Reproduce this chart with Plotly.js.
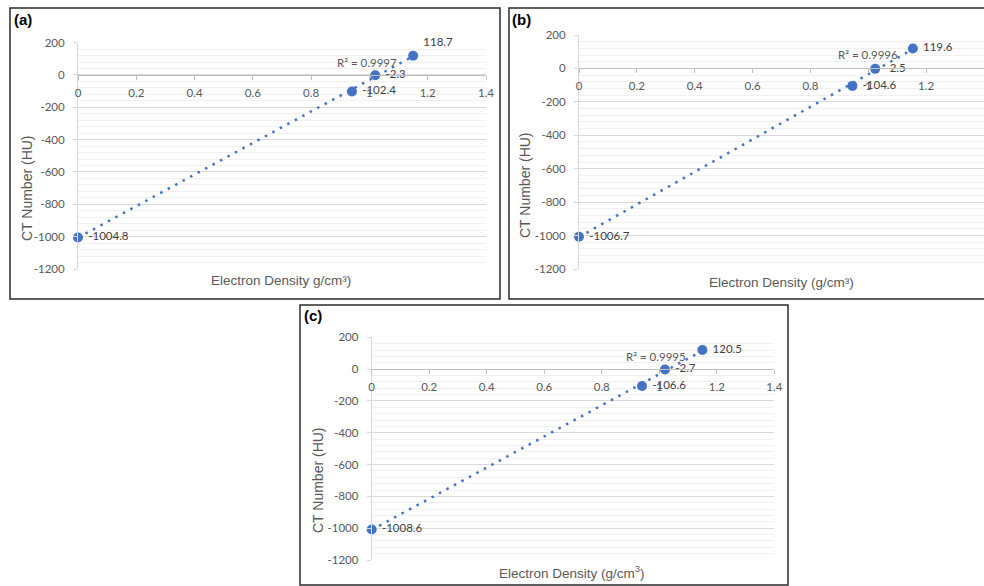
<!DOCTYPE html>
<html>
<head>
<meta charset="utf-8">
<script src="https://cdn.plot.ly/plotly-3.0.1.min.js"></script>
<style>
  html, body { margin: 0; padding: 0; background: #ffffff; }
  #chart { width: 984px; height: 586px; }
</style>
</head>
<body>
<div id="chart"></div>
<script>
// ---- data ----
const densityA = [0, 0.94, 1.02, 1.15];
const ctA = [-1004.8, -102.4, -2.3, 118.7];
const densityB = [0, 0.945, 1.024, 1.154];
const ctB = [-1006.7, -104.6, -2.5, 119.6];
const densityC = [0, 0.94, 1.02, 1.15];
const ctC = [-1008.6, -106.6, -2.7, 120.5];
const rSquared = [0.9997, 0.9996, 0.9995];
const panelLabels = ['(a)', '(b)', '(c)'];
const xTitles = ['Electron Density g/cm³)', 'Electron Density (g/cm³)', 'Electron Density (g/cm<sup>3</sup>)'];
const yTitle = 'CT Number (HU)';
const yTickVals = [200, 0, -200, -400, -600, -800, -1000, -1200];
const yTickText = ['200', '0', '-200', '-400', '-600', '-800', '-1000', '-1200'];
const xTickVals = [0, 0.2, 0.4, 0.6, 0.8, 1, 1.2, 1.4];
const xTickText = ['0', '0.2', '0.4', '0.6', '0.8', '1', '1.2', '1.4'];

// ---- layout geometry (pixels) ----
const W = 984, H = 586;
const panels = [
  {x: densityA, y: ctA, plot: [78, 486, 42.6, 269], frame: [10, 500, 8, 299],
   label: [12, 20], yt: [27, 188], xt: [281, 281],
   textpos: ['middle right', 'middle right', 'middle right', 'top right'], r2pos: [1.10, 80]},
  {x: densityB, y: ctB, plot: [579, 984, 35, 269], frame: [509, 990, 8, 299],
   label: [510, 20], yt: [525, 185], xt: [781, 282],
   textpos: ['middle right', 'middle right', 'middle right', 'middle right'], r2pos: [1.108, 85]},
  {x: densityC, y: ctC, plot: [371.7, 774.3, 337.3, 560], frame: [300, 788, 305, 585],
   label: [302, 315], yt: [318, 480], xt: [572, 572],
   textpos: ['middle right', 'middle right', 'middle right', 'middle right'], r2pos: [1.10, 82]}
];
const yRange = [-1200, 200];
const xRange = [0, 1.4];

const font = 'Lato, "Open Sans", sans-serif';
const arial = '"Liberation Sans", Arial, sans-serif';
const blue = '#4472C4';

function linfit(xs, ys) {
  const n = xs.length;
  const mx = xs.reduce((a, b) => a + b, 0) / n;
  const my = ys.reduce((a, b) => a + b, 0) / n;
  let sxy = 0, sxx = 0;
  for (let i = 0; i < n; i++) { sxy += (xs[i] - mx) * (ys[i] - my); sxx += (xs[i] - mx) ** 2; }
  const m = sxy / sxx;
  return {m: m, b: my - m * mx};
}

const data = [];
const layout = {
  width: W, height: H,
  margin: {l: 0, r: 0, t: 0, b: 0},
  paper_bgcolor: '#ffffff', plot_bgcolor: '#ffffff',
  showlegend: false,
  shapes: [], annotations: []
};

panels.forEach((p, i) => {
  const sfx = i === 0 ? '' : String(i + 1);
  const xa = 'x' + sfx, ya = 'y' + sfx;
  const dx = [p.plot[0] / W, Math.min(1, p.plot[1] / W)];
  const dy = [1 - p.plot[3] / H, 1 - p.plot[2] / H];
  const zeroPos = dy[0] + (0 - yRange[0]) / (yRange[1] - yRange[0]) * (dy[1] - dy[0]);
  const xr = p.plot[1] > W ? [0, 1.4 * (W - p.plot[0]) / (p.plot[1] - p.plot[0])] : xRange;

  const fit = linfit(p.x, p.y);
  const xmin = Math.min(...p.x), xmax = Math.max(...p.x);
  data.push({
    type: 'scatter', mode: 'lines', xaxis: xa, yaxis: ya,
    x: [xmin, xmax], y: [fit.b + fit.m * xmin, fit.b + fit.m * xmax],
    line: {color: blue, width: 2.5, dash: '2.5px,6px'}, hoverinfo: 'skip'
  });
  data.push({
    type: 'scatter', mode: 'markers+text', xaxis: xa, yaxis: ya,
    x: p.x, y: p.y, text: p.y.map(v => '\u00a0' + v.toFixed(1)),
    textposition: p.textpos,
    textfont: {family: font, size: 11.5, color: '#404040'},
    marker: {color: blue, size: 10}, cliponaxis: false
  });

  layout['xaxis' + sfx] = {
    domain: dx, range: xr, anchor: 'free', position: zeroPos,
    tickvals: xTickVals, ticktext: xTickText,
    showgrid: false, zeroline: false,
    showline: true, linecolor: '#bfbfbf', linewidth: 1,
    ticks: 'outside', ticklen: 4, tickcolor: '#bfbfbf',
    ticklabelstandoff: 3,
    tickfont: {family: font, size: 11.5, color: '#595959'}
  };
  layout['yaxis' + sfx] = {
    domain: dy, range: yRange, anchor: xa,
    tickvals: yTickVals, ticktext: yTickText,
    showgrid: true, gridcolor: '#d9d9d9', gridwidth: 1,
    minor: {dtick: 40, showgrid: true, gridcolor: '#f0f0f0', gridwidth: 1},
    zeroline: false,
    showline: true, linecolor: '#d9d9d9', linewidth: 1,
    ticks: 'outside', ticklen: 4, tickcolor: '#d9d9d9',
    ticklabelstandoff: 6,
    tickfont: {family: font, size: 11.5, color: '#595959'}
  };

  layout.shapes.push({
    type: 'rect', xref: 'paper', yref: 'paper', layer: 'above',
    x0: p.frame[0] / W, x1: p.frame[1] / W, y0: 1 - p.frame[3] / H, y1: 1 - p.frame[2] / H,
    line: {color: '#2b2b2b', width: 1.5}, fillcolor: 'rgba(0,0,0,0)'
  });

  layout.annotations.push({
    xref: 'paper', yref: 'paper', x: p.label[0] / W, y: 1 - p.label[1] / H,
    xanchor: 'left', yanchor: 'middle', showarrow: false,
    text: '<b>' + panelLabels[i] + '</b>', font: {family: arial, size: 15, color: '#000000'}
  });
  layout.annotations.push({
    xref: 'paper', yref: 'paper', x: p.yt[0] / W, y: 1 - p.yt[1] / H,
    xanchor: 'center', yanchor: 'middle', showarrow: false, textangle: -90,
    text: yTitle, font: {family: arial, size: 14, color: '#595959'}
  });
  layout.annotations.push({
    xref: 'paper', yref: 'paper', x: p.xt[0] / W, y: 1 - p.xt[1] / H,
    xanchor: 'center', yanchor: 'middle', showarrow: false,
    text: xTitles[i], font: {family: arial, size: 13.5, color: '#595959'}
  });
  layout.annotations.push({
    xref: xa, yref: ya, x: p.r2pos[0], y: p.r2pos[1],
    xanchor: 'right', yanchor: 'middle', showarrow: false,
    text: 'R² = ' + rSquared[i].toFixed(4), font: {family: font, size: 11.5, color: '#595959'}
  });
});

Plotly.newPlot('chart', data, layout, {staticPlot: true, displayModeBar: false});
</script>
</body>
</html>
